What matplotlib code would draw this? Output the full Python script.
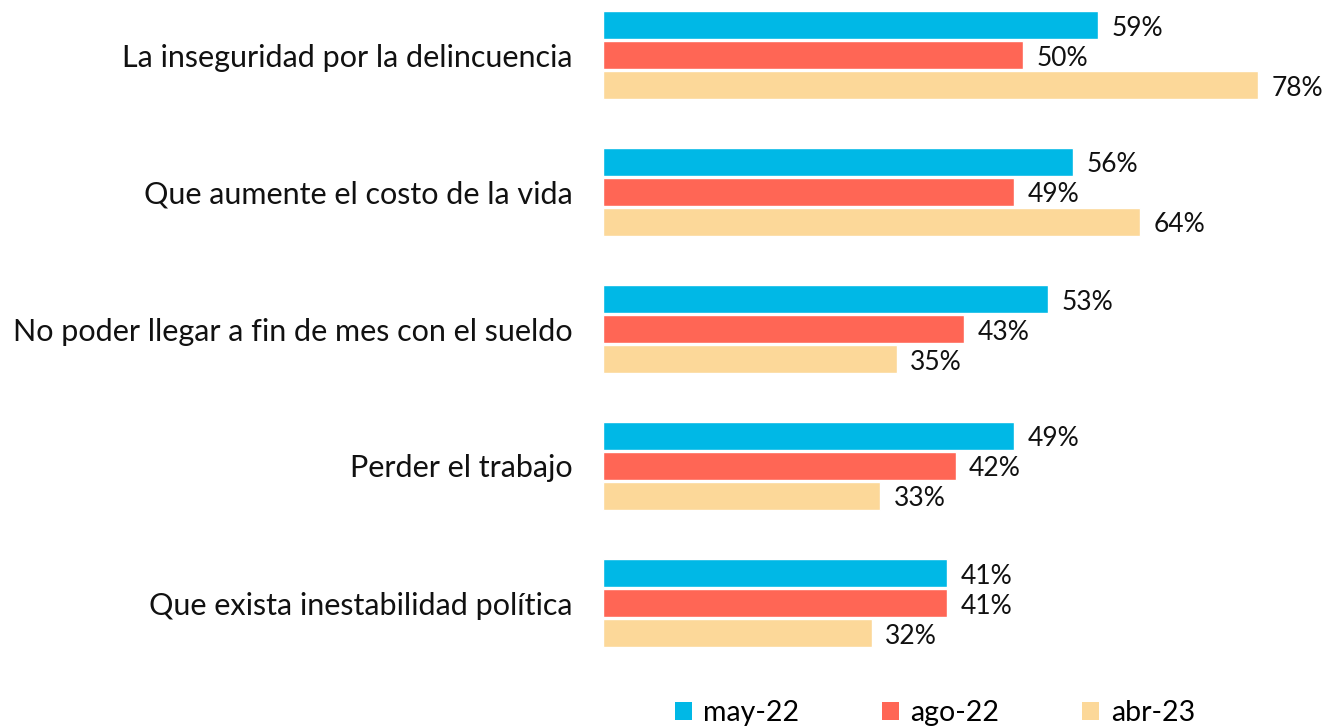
import matplotlib.pyplot as plt
from matplotlib.patches import Patch

categories = ['La inseguridad por la delincuencia', 'Que aumente el costo de la vida',
              'No poder llegar a fin de mes con el sueldo', 'Perder el trabajo',
              'Que exista inestabilidad política']
series = ['may-22', 'ago-22', 'abr-23']
may22 = [59, 56, 53, 49, 41]
ago22 = [50, 49, 43, 42, 41]
abr23 = [78, 64, 35, 33, 32]

colors = ['#00B8E6', '#FF6655', '#FCD899']
plt.rcParams['font.family'] = ['Lato', 'DejaVu Sans']

fig = plt.figure(figsize=(13.28, 7.26), dpi=100)
ax = fig.add_axes([603 / 1328, 1 - 670 / 726, 1 - 603 / 1328, 670 / 726])

# y in pixel-like units, top to bottom
pitch = 137
centers = [55 + pitch * i for i in range(len(categories))]
offsets = [-30, 0, 30]
for vals, off, col in zip([may22, ago22, abr23], offsets, colors):
    ys = [c + off for c in centers]
    ax.barh(ys, vals, height=28, color=col, edgecolor='white', linewidth=1)
    for y, v in zip(ys, vals):
        ax.text(v + 1.6, y + 3, f'{v}%', va='center', ha='left', fontsize=19, color='#111111')

ax.set_ylim(670, 0)
ax.set_xlim(0, (1328 - 603) / 8.397)
ax.set_yticks(centers)
ax.set_yticklabels(categories, fontsize=22, color='#111111')
ax.tick_params(axis='y', length=0, pad=22)
ax.set_xticks([])
for s in ax.spines.values():
    s.set_visible(False)

handles = [Patch(facecolor=c, edgecolor='none') for c in colors]
fig.legend(handles, series, loc='center', bbox_to_anchor=(0.704, 0.018), ncol=3, frameon=False,
           fontsize=20.5, handlelength=0.6, handleheight=0.6, handletextpad=0.4, columnspacing=2.9)

fig.savefig('out.png', dpi=100)
